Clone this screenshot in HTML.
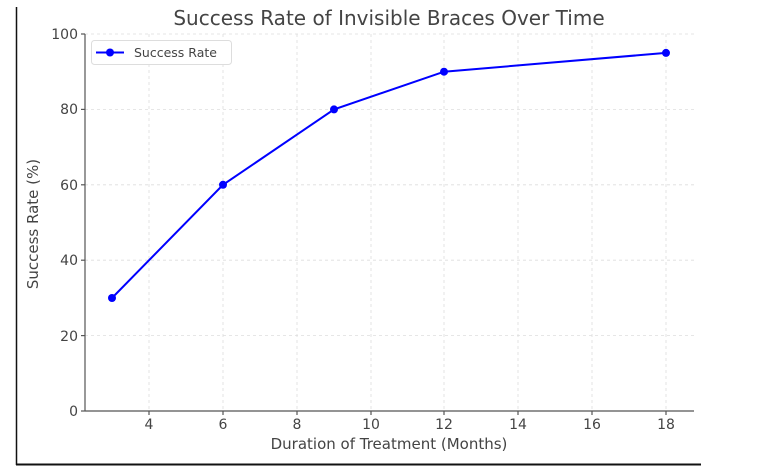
<!DOCTYPE html>
<html><head><style>body{margin:0;background:#fff}svg{display:block}</style></head><body>
<svg width="777" height="476" xmlns="http://www.w3.org/2000/svg" font-family="DejaVu Sans, Liberation Sans, sans-serif">
<rect width="777" height="476" fill="#fff"/>
<line x1="16.5" y1="7" x2="16.5" y2="465" stroke="#111" stroke-width="1.5"/>
<line x1="16" y1="464.5" x2="701" y2="464.5" stroke="#111" stroke-width="2"/>
<g stroke="#ddd" stroke-width="0.8" stroke-dasharray="3,3">
<line x1="149" y1="34" x2="149" y2="411"/><line x1="223" y1="34" x2="223" y2="411"/><line x1="297" y1="34" x2="297" y2="411"/><line x1="371" y1="34" x2="371" y2="411"/><line x1="444" y1="34" x2="444" y2="411"/><line x1="518" y1="34" x2="518" y2="411"/><line x1="592" y1="34" x2="592" y2="411"/><line x1="666" y1="34" x2="666" y2="411"/>
<line x1="85" y1="34" x2="694" y2="34"/><line x1="85" y1="109.4" x2="694" y2="109.4"/><line x1="85" y1="184.8" x2="694" y2="184.8"/><line x1="85" y1="260.2" x2="694" y2="260.2"/><line x1="85" y1="335.6" x2="694" y2="335.6"/>
</g>
<g stroke="#555" stroke-width="1.2">
<line x1="85" y1="34" x2="85" y2="411"/><line x1="85" y1="411" x2="694" y2="411"/>
<line x1="81" y1="34" x2="85" y2="34"/><line x1="81" y1="109.4" x2="85" y2="109.4"/><line x1="81" y1="184.8" x2="85" y2="184.8"/><line x1="81" y1="260.2" x2="85" y2="260.2"/><line x1="81" y1="335.6" x2="85" y2="335.6"/><line x1="81" y1="411" x2="85" y2="411"/>
<line x1="149" y1="411" x2="149" y2="415"/><line x1="223" y1="411" x2="223" y2="415"/><line x1="297" y1="411" x2="297" y2="415"/><line x1="371" y1="411" x2="371" y2="415"/><line x1="444" y1="411" x2="444" y2="415"/><line x1="518" y1="411" x2="518" y2="415"/><line x1="592" y1="411" x2="592" y2="415"/><line x1="666" y1="411" x2="666" y2="415"/>
</g>
<g font-size="14" fill="#444" text-anchor="end">
<text x="78" y="39">100</text><text x="78" y="114">80</text><text x="78" y="190">60</text><text x="78" y="265">40</text><text x="78" y="341">20</text><text x="78" y="416">0</text>
</g>
<g font-size="14" fill="#444" text-anchor="middle">
<text x="149" y="429">4</text><text x="223" y="429">6</text><text x="297" y="429">8</text><text x="371" y="429">10</text><text x="444" y="429">12</text><text x="518" y="429">14</text><text x="592" y="429">16</text><text x="666" y="429">18</text>
</g>
<text x="389" y="449" font-size="15" fill="#444" text-anchor="middle">Duration of Treatment (Months)</text>
<text x="38" y="224" font-size="15" fill="#444" text-anchor="middle" transform="rotate(-90 38 224)">Success Rate (%)</text>
<text x="389" y="25" font-size="20" fill="#444" text-anchor="middle">Success Rate of Invisible Braces Over Time</text>
<polyline points="112,298 223,184.8 334,109.4 444,71.7 666,52.9" fill="none" stroke="#00f" stroke-width="2"/>
<g fill="#00f"><circle cx="112" cy="298" r="4"/><circle cx="223" cy="184.8" r="4"/><circle cx="334" cy="109.4" r="4"/><circle cx="444" cy="71.7" r="4"/><circle cx="666" cy="52.9" r="4"/></g>
<rect x="91.5" y="40.5" width="140" height="24" rx="3" fill="#fff" stroke="#ddd"/>
<line x1="96" y1="52.5" x2="124" y2="52.5" stroke="#00f" stroke-width="2"/><circle cx="110" cy="52.5" r="4" fill="#00f"/>
<text x="134" y="57" font-size="12.5" fill="#444">Success Rate</text>
</svg>
</body></html>
